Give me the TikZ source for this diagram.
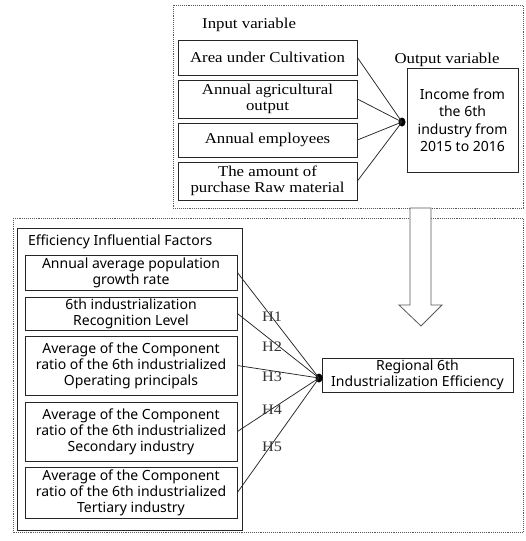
\documentclass[tikz,border=0pt]{standalone}
\usepackage{fontspec}
\usetikzlibrary{shapes.geometric}
\setmainfont{Liberation Serif}
\newfontfamily\serifw[FakeStretch=1.12]{Liberation Serif}
\newfontfamily\sansf{Noto Sans}
\begin{document}
\begin{tikzpicture}[x=1pt,y=-1pt,
  dotbox/.style={draw=gray!70!black, densely dotted, line width=0.9pt},
  sbox/.style={draw=black!85, line width=0.8pt, align=center, inner sep=0pt},
  serift/.style={font=\serifw\fontsize{15}{16}\selectfont},
  sanst/.style={font=\sansf\fontsize{14}{16}\selectfont},
  link/.style={draw=black!85, line width=0.75pt},
  hub/.style={ellipse, fill=black, inner sep=0pt, minimum width=7pt, minimum height=9pt},
  hlab/.style={font=\serifw\fontsize{14.5}{14.5}\selectfont, inner sep=0pt, text=black!80}]
\useasboundingbox (0,0) rectangle (526,541);
% dotted frames
\draw[dotbox] (173,5) rectangle (523,208);
\draw[dotbox] (13,218) rectangle (523,532);
% hollow arrow
\draw[draw=gray!70!black, line width=0.8pt, fill=white]
  (410,208) -- (431,208) -- (431,305) -- (442,305) -- (421,326) -- (399,305) -- (410,305) -- cycle;
% top part
\node[serift, anchor=west, inner sep=0pt] (inlab) at (202,25) {Input variable};
\node[serift, inner sep=0pt] (outlab) at (447,60) {Output variable};
\node[sbox, serift, minimum width=179pt, minimum height=35pt] (i1) at (267.5,57.5) {Area under Cultivation};
\node[sbox, serift, minimum width=179pt, minimum height=38pt] (i2) at (267.5,99) {Annual agricultural\\output};
\node[sbox, serift, minimum width=179pt, minimum height=34pt] (i3) at (267.5,140) {Annual employees};
\node[sbox, serift, minimum width=179pt, minimum height=38pt] (i4) at (267.5,181) {The amount of\\purchase Raw material};
\node[sbox, sanst, font=\sansf\fontsize{14}{17.5}\selectfont, minimum width=111pt, minimum height=104pt] (out) at (462.5,120) {Income from\\the 6th\\industry from\\2015 to 2016};
\node[hub] (hubT) at (402,122) {};
\foreach \n in {i1,i2,i3,i4} \draw[link] (\n.east) -- (hubT.center);
% bottom part
\node[sbox, minimum width=225pt, minimum height=302pt] (eff) at (129.5,379) {};
\node[sanst, anchor=west, inner sep=0pt] (efflab) at (28,242) {Efficiency Influential Factors};
\node[sbox, sanst, minimum width=212pt, minimum height=35pt] (fa) at (131,272.5) {Annual average population\\growth rate};
\node[sbox, sanst, minimum width=212pt, minimum height=33pt] (fb) at (131,313.5) {6th industrialization\\Recognition Level};
\node[sbox, sanst, minimum width=212pt, minimum height=59pt] (fc) at (131,365.5) {Average of the Component\\ratio of the 6th industrialized\\Operating principals};
\node[sbox, sanst, minimum width=212pt, minimum height=59pt] (fd) at (131,431.5) {Average of the Component\\ratio of the 6th industrialized\\Secondary industry};
\node[sbox, sanst, minimum width=212pt, minimum height=51pt] (fe) at (131,492.5) {Average of the Component\\ratio of the 6th industrialized\\Tertiary industry};
\node[sbox, sanst, minimum width=191pt, minimum height=34pt] (reg) at (417.5,375) {Regional 6th\\Industrialization Efficiency};
\node[hub] (hubB) at (319,378) {};
\foreach \n in {fa,fb,fc,fd,fe} \draw[link] (\n.east) -- (hubB.center);
\node[hlab] (h1) at (272,317) {H1};
\node[hlab] (h2) at (272,347) {H2};
\node[hlab] (h3) at (272,377) {H3};
\node[hlab] (h4) at (272,410) {H4};
\node[hlab] (h5) at (272,447) {H5};
\end{tikzpicture}
\end{document}
